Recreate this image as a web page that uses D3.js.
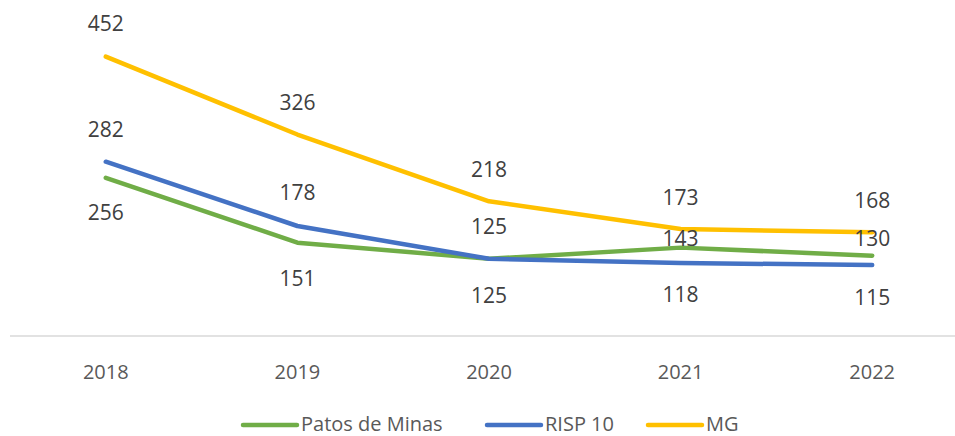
<!DOCTYPE html>
<html>
<head>
<meta charset="utf-8">
<script src="https://cdn.jsdelivr.net/npm/d3@7"></script>
<style>
body { margin: 0; background: #fff; }
svg text { font-family: 'Open Sans', sans-serif; }
</style>
</head>
<body>
<script>
var years = ['2018', '2019', '2020', '2021', '2022'];
var seriesNames = ['Patos de Minas', 'RISP 10', 'MG'];
var patosValues = [256, 151, 125, 143, 130];
var rispValues = [282, 178, 125, 118, 115];
var mgValues = [452, 326, 218, 173, 168];

// label offsets from the point, in px (negative = above)
var patosLabelOff = [35, 36, 37, -9, -17];
var rispLabelOff = [-32, -33, -32, 32, 33];
var mgLabelOff = [-33, -32, -32, -31, -32];

var series = [
	{ name: seriesNames[0], values: patosValues, off: patosLabelOff, color: '#70AD47' },
	{ name: seriesNames[1], values: rispValues, off: rispLabelOff, color: '#4472C4' },
	{ name: seriesNames[2], values: mgValues, off: mgLabelOff, color: '#FFC000' }
];

var width = 955, height = 436;

var svg = d3.select('body').append('svg')
	.attr('width', width)
	.attr('height', height);

var x = d3.scaleBand()
	.domain(years)
	.range([10, 968]);

var y = d3.scaleLinear()
	.domain([0, 500])
	.range([336, 27]);

/*
/	AXIS LINE + CATEGORY LABELS
*/
svg.append('line')
	.attr('x1', 10)
	.attr('x2', width)
	.attr('y1', y(0))
	.attr('y2', y(0))
	.attr('stroke', '#d9d9d9')
	.attr('stroke-width', 1.5);

svg.append('g').selectAll('text')
	.data(years)
	.enter().append('text')
	.attr('x', function(d){ return x(d) + x.bandwidth() / 2; })
	.attr('y', 372)
	.attr('dy', '0.35em')
	.attr('text-anchor', 'middle')
	.attr('font-size', '20px')
	.attr('fill', '#595959')
	.text(function(d){ return d; });

/*
/	LINES
*/
var line = d3.line()
	.x(function(d, i){ return x(years[i]) + x.bandwidth() / 2; })
	.y(function(d){ return y(d); });

var lineGroup = svg.append('g');
series.forEach(function(s){
	lineGroup.append('path')
		.datum(s.values)
		.attr('d', line)
		.attr('fill', 'none')
		.attr('stroke', s.color)
		.attr('stroke-width', 4.5)
		.attr('stroke-linecap', 'round')
		.attr('stroke-linejoin', 'round');
});

/*
/	DATA LABELS
*/
var labelGroup = svg.append('g');
series.forEach(function(s){
	labelGroup.selectAll(null)
		.data(s.values)
		.enter().append('text')
		.attr('x', function(d, i){ return x(years[i]) + x.bandwidth() / 2; })
		.attr('y', function(d, i){ return y(d) + s.off[i]; })
		.attr('dy', '0.35em')
		.attr('text-anchor', 'middle')
		.attr('font-size', '21px')
		.attr('fill', '#404040')
		.text(function(d){ return d; });
});

/*
/	LEGEND
*/
var legendX = [243, 487, 648];
var legend = svg.append('g');
series.forEach(function(s, i){
	legend.append('line')
		.attr('x1', legendX[i])
		.attr('x2', legendX[i] + 54)
		.attr('y1', 425)
		.attr('y2', 425)
		.attr('stroke', s.color)
		.attr('stroke-width', 4.5)
		.attr('stroke-linecap', 'round');
	legend.append('text')
		.attr('x', legendX[i] + 58)
		.attr('y', 424)
		.attr('dy', '0.35em')
		.attr('font-size', '20px')
		.attr('fill', '#595959')
		.text(s.name);
});
</script>
</body>
</html>
